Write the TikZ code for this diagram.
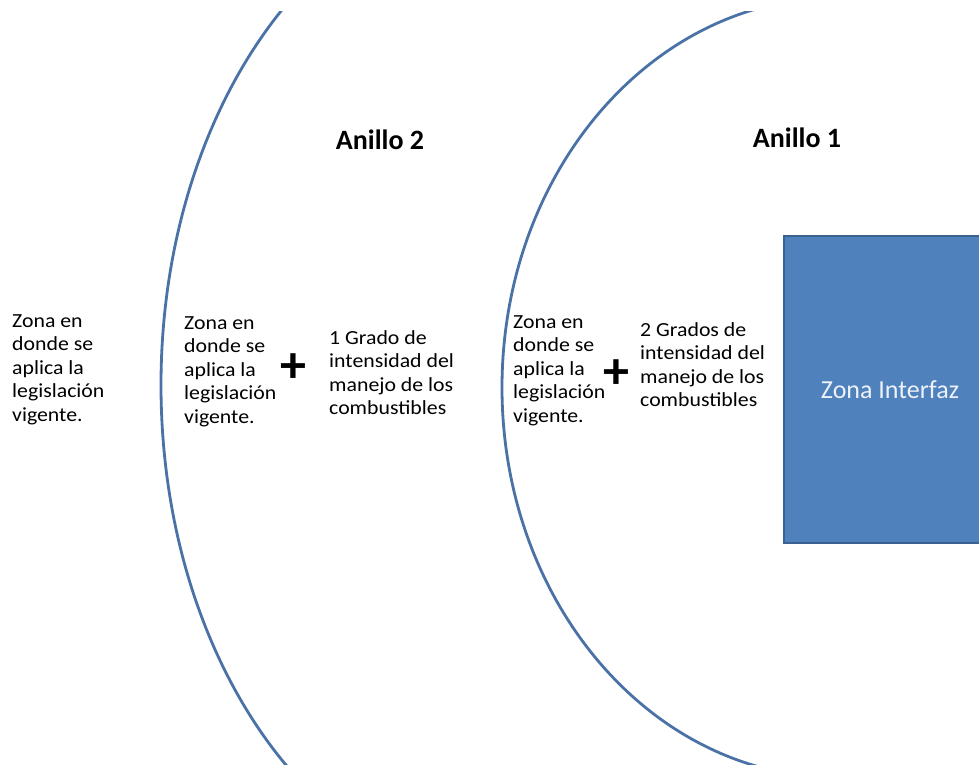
\documentclass[tikz,border=0pt]{standalone}
\usepackage{fontspec}
\setmainfont{Carlito}
\definecolor{arcblue}{HTML}{4A72A6}
\definecolor{boxfill}{HTML}{4F81BD}
\definecolor{boxline}{HTML}{3A6291}
\definecolor{boxtext}{HTML}{EEF2F8}
\newfontfamily\widefont[FakeStretch=1.09]{Carlito}
\tikzset{
  ring/.style={draw=arcblue, line width=2.8pt},
  bodytext/.style={inner sep=0pt, anchor=north west, align=left, font=\widefont\fontsize{20}{23.5}\selectfont},
  plussign/.style={inner sep=0pt, font=\fontsize{52}{52}\selectfont\bfseries},
  ringlabel/.style={inner sep=0pt, font=\fontsize{28}{32}\selectfont\bfseries},
  zonebox/.style={draw=boxline, line width=2pt, fill=boxfill, text=boxtext, anchor=north west,
    minimum width=212pt, minimum height=307pt, inner sep=0pt, font=\fontsize{26}{30}\selectfont}
}
\begin{document}
\begin{tikzpicture}[x=1pt,y=-1pt]
\useasboundingbox (0,0) rectangle (979,765);
\clip (0,0) rectangle (979,765);
\fill[white] (0,0) rectangle (979,765);
% rings
\begin{scope}
  \clip (0,12) rectangle (518,766);
  \draw[ring] (518,385) ellipse [x radius=357pt, y radius=500pt];
\end{scope}
\begin{scope}
  \clip (0,12) rectangle (837,766);
  \draw[ring] (837,387.5) ellipse [x radius=335pt, y radius=390pt];
\end{scope}
% labels
\node[ringlabel] (lab2) at (380,140) {Anillo 2};
\node[ringlabel] (lab1) at (797,138) {Anillo 1};
% outer text
\node[bodytext] (outer) at (12,314) {Zona en\\donde se\\aplica la\\legislación\\vigente.};
% ring 2 texts
\node[bodytext] (r2a) at (184,316) {Zona en\\donde se\\aplica la\\legislación\\vigente.};
\node[plussign] (p2) at (293,368) {+};
\node[bodytext] (r2b) at (329,330) {1 Grado de\\intensidad del\\manejo de los\\combustibles};
% ring 1 texts
\node[bodytext] (r1a) at (513,315) {Zona en\\donde se\\aplica la\\legislación\\vigente.};
\node[plussign] (p1) at (616,374) {+};
\node[bodytext] (r1b) at (640,322) {2 Grados de\\intensidad del\\manejo de los\\combustibles};
% interface zone
\node[zonebox] (iz) at (783,235) {Zona Interfaz};
\end{tikzpicture}
\end{document}
